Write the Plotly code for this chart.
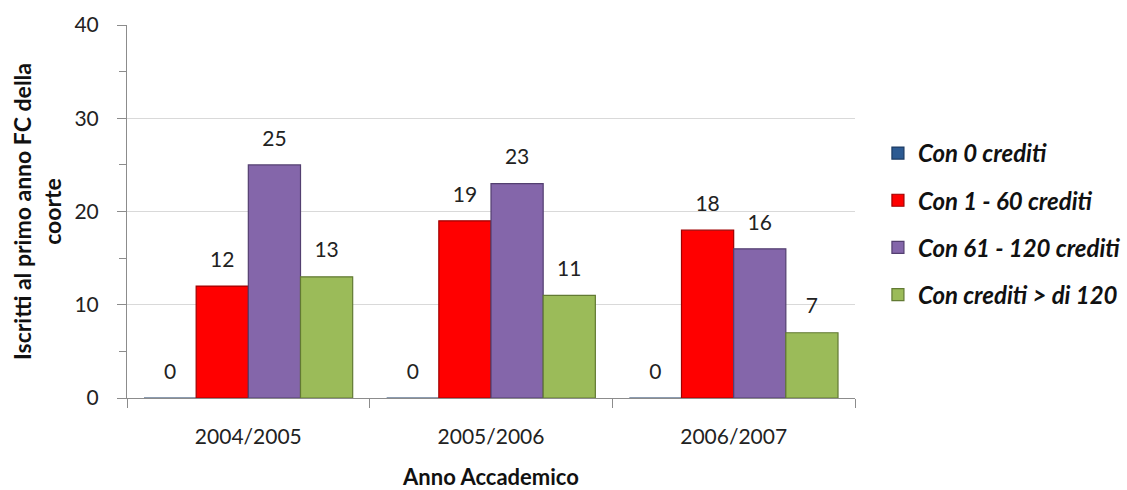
import plotly.graph_objects as go

# Academic years (categories) and number of students per credit band
anni = ["2004/2005", "2005/2006", "2006/2007"]
con_0 = [0, 0, 0]
con_1_60 = [12, 19, 18]
con_61_120 = [25, 23, 16]
con_oltre_120 = [13, 11, 7]

serie = [
    ("Con 0 crediti", con_0, "#2C5A92", "#1B3A63"),
    ("Con 1 - 60 crediti", con_1_60, "#FF0000", "#A00000"),
    ("Con 61 - 120 crediti", con_61_120, "#8466AA", "#533F70"),
    ("Con crediti > di 120", con_oltre_120, "#9BBB59", "#627A33"),
]

FONT = "Lato, 'Open Sans', sans-serif"

fig = go.Figure()
for i, (nome, valori, colore, bordo) in enumerate(serie):
    fig.add_trace(go.Bar(
        x=anni,
        y=valori,
        name=f"<b><i>{nome}</i></b>",
        legendgroup=f"g{i}",
        marker=dict(color=colore, line=dict(color=bordo, width=1.2)),
        text=valori,
        # value on the first line, a thin spacer line below lifts it off the bar
        texttemplate="<span style='font-size:21px'>%{y}</span><br> ",
        textposition="outside",
        textfont=dict(family=FONT, size=11, color="#222222"),
        cliponaxis=False,
    ))

fig.update_layout(
    width=1127,
    height=490,
    margin=dict(l=127, r=272, t=25, b=92),
    paper_bgcolor="white",
    plot_bgcolor="white",
    barmode="group",
    bargap=0.14,
    bargroupgap=0,
    font=dict(family=FONT, color="#222222"),
    showlegend=True,
    legend=dict(
        xref="container", yref="container",
        x=0.779, xanchor="left",
        y=0.543, yanchor="middle",
        font=dict(family=FONT, size=24, color="#111111"),
        tracegroupgap=13,
        itemwidth=30,
        bgcolor="rgba(0,0,0,0)",
    ),
    xaxis=dict(
        automargin=False,
        showline=True,
        linecolor="#8C8C8C",
        linewidth=1,
        ticks="outside",
        tickson="boundaries",
        ticklen=9,
        tickcolor="#8C8C8C",
        ticklabelstandoff=20,
        tickfont=dict(family=FONT, size=21, color="#222222"),
        title=dict(text="<b>Anno Accademico</b>", font=dict(family=FONT, size=22, color="#111111"), standoff=26),
    ),
    yaxis=dict(
        range=[0, 40],
        tickvals=[0, 10, 20, 30, 40],
        showline=True,
        linecolor="#8C8C8C",
        linewidth=1,
        ticks="outside",
        ticklen=9,
        tickcolor="#8C8C8C",
        ticklabelstandoff=14,
        showgrid=True,
        gridcolor="#D9D9D9",
        zeroline=False,
        minor=dict(dtick=5, ticks="outside", ticklen=7, tickcolor="#8C8C8C", showgrid=False),
        tickfont=dict(family=FONT, size=21, color="#222222"),
        title=dict(text="<b>Iscritti al primo anno FC della<br>coorte</b>", font=dict(family=FONT, size=23, color="#111111"), standoff=6),
    ),
)

fig.write_html("out.html")
